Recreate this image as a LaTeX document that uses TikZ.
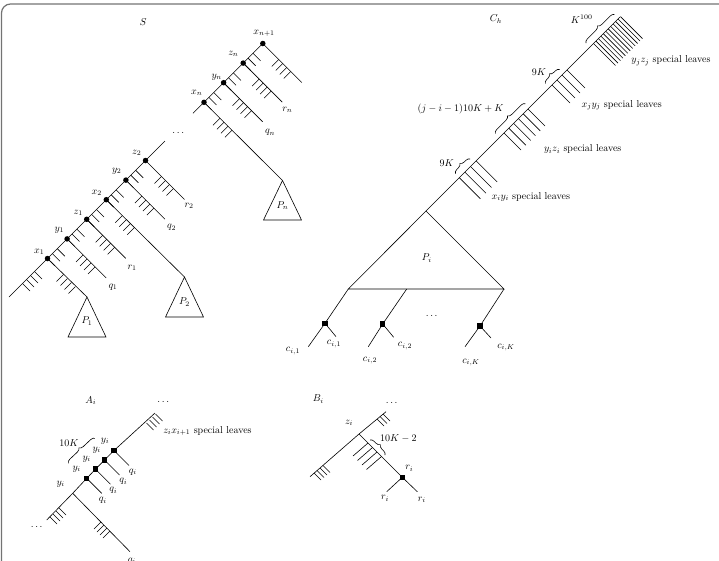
\documentclass[tikz,border=0pt]{standalone}
\usetikzlibrary{calc,decorations.pathreplacing}
\newcommand\hatchgrp[4]{\foreach \k in {0,...,#4}{\draw ($#1+\k*#2$) -- ++#3;}}
\begin{document}
\begin{tikzpicture}[x=1pt,y=-1pt,line width=0.6pt,
  dot/.style={circle,fill,inner sep=0pt,minimum size=5.5pt},
  sq/.style={rectangle,fill,inner sep=0pt,minimum size=5.5pt},
  lbl/.style={inner sep=0pt},
  brc/.style={decorate,decoration={brace,amplitude=4pt}},
  tri/.style={draw}]
\useasboundingbox (0,0) rectangle (719,560);
\clip (0,0) rectangle (719,560);
\draw[black!55,line width=1.2pt,rounded corners=9pt] (1.5,700) -- (1.5,4) -- (900,4);

% ================= S =================
\node[lbl] (tS) at (143.3,21.7) {$S$};
\node[dot] (x1) at (47.5,258.5) {};
\node[dot] (y1) at (67.1,238.9) {};
\node[dot] (z1) at (86.7,219.3) {};
\node[dot] (x2) at (106.3,199.7) {};
\node[dot] (y2) at (125.9,180.1) {};
\node[dot] (z2) at (145.5,160.5) {};
\coordinate (s0) at (9,297);
\coordinate (s1) at (165,141);
\draw (s0) -- (x1.center) -- (y1.center) -- (z1.center) -- (x2.center) -- (y2.center) -- (z2.center) -- (s1);
\node[lbl] at (178.3,133) {$\dots$};
\node[dot] (xn) at (204,102.3) {};
\node[dot] (yn) at (223.6,82.7) {};
\node[dot] (zn) at (243.2,63.1) {};
\node[dot] (xn1) at (262.8,43.5) {};
\coordinate (sn0) at (193,113.3);
\draw (sn0) -- (xn.center) -- (yn.center) -- (zn.center) -- (xn1.center);
% spine hatches
\foreach \n in {x1,y1,z1,x2,y2}{\hatchgrp{(\n)}{(4.9,-4.9)}{(7.5,7.5)}{2}}
\foreach \n in {xn,yn,zn}{\hatchgrp{(\n)}{(4.9,-4.9)}{(7.5,7.5)}{2}}
\hatchgrp{(22.5,283.5)}{(4,-4)}{(7.5,7.5)}{3}
% triangles
\coordinate (p1) at (87,297);
\coordinate (p2) at (184.5,277);
\coordinate (pn) at (282.5,180.5);
\draw (x1.center) -- (p1);
\draw (x2.center) -- (p2);
\draw (xn.center) -- (pn);
\draw (p1) -- ++(19,40) -- ++(-38,0) -- cycle;
\draw (p2) -- ++(19,40) -- ++(-38,0) -- cycle;
\draw (pn) -- ++(19,39.5) -- ++(-38,0) -- cycle;
\node[lbl] at (87,321) {$P_1$};
\node[lbl] at (184.5,302) {$P_2$};
\node[lbl] at (282.5,205.5) {$P_n$};
% short branches
\coordinate (q1e) at ($(y1)+(39,39)$);
\coordinate (r1e) at ($(z1)+(39,39)$);
\coordinate (q2e) at ($(y2)+(39,39)$);
\coordinate (r2e) at ($(z2)+(39,39)$);
\coordinate (qne) at ($(yn)+(39,39)$);
\coordinate (rne) at ($(zn)+(39,39)$);
\coordinate (xne) at ($(xn1)+(39,39)$);
\draw (y1.center) -- (q1e); \draw (z1.center) -- (r1e);
\draw (y2.center) -- (q2e); \draw (z2.center) -- (r2e);
\draw (yn.center) -- (qne); \draw (zn.center) -- (rne); \draw (xn1.center) -- (xne);
\foreach \n in {x1,y1,z1,x2,y2,z2,xn,yn,zn,xn1}{\hatchgrp{($(\n)+(16,16)$)}{(4,4)}{(-7,7)}{3}}
\node[lbl] at (113,287) {$q_1$};
\node[lbl] at (132,268) {$r_1$};
\node[lbl] at (171.7,227.5) {$q_2$};
\node[lbl] at (189,206) {$r_2$};
\node[lbl] at (270,132.5) {$q_n$};
\node[lbl] at (287.3,110) {$r_n$};
\node[lbl] at (39.3,251.7) {$x_1$};
\node[lbl] at (59.3,230) {$y_1$};
\node[lbl] at (78.3,212.7) {$z_1$};
\node[lbl] at (96.7,192.7) {$x_2$};
\node[lbl] at (116.7,171) {$y_2$};
\node[lbl] at (136.7,152.7) {$z_2$};
\node[lbl] at (196.7,92.7) {$x_n$};
\node[lbl] at (216.7,77) {$y_n$};
\node[lbl] at (233.3,54) {$z_n$};
\node[lbl] at (264,33.3) {$x_{n+1}$};

% ================= C_h =================
\node[lbl] (tC) at (496,19.3) {$C_h$};
\coordinate (A) at (426,211);
\coordinate (T) at (620,17);
\draw (A) -- (T);
\draw (A) -- (348.3,289) coordinate (L) -- (504,289) coordinate (R) -- cycle;
\node[lbl] at (426.7,258.3) {$P_i$};
\hatchgrp{(459.3,177.7)}{(5.6,-5.6)}{(21,21)}{3}
\hatchgrp{(504,133)}{(4.8,-4.8)}{(17,17)}{5}
\hatchgrp{(552,85)}{(5,-5)}{(18,18)}{3}
\hatchgrp{(593.5,43.5)}{(2.45,-2.45)}{(22,22)}{11}
\draw[brc] ($(A)+(33.5,-33.5)+(-4,-4)$) -- ($(A)+(48,-48)+(-4,-4)$);
\draw[brc] ($(A)+(73.3,-73.3)+(-4,-4)$) -- ($(A)+(103.3,-103.3)+(-4,-4)$);
\draw[brc] ($(A)+(123.3,-123.3)+(-4,-4)$) -- ($(A)+(137.5,-137.5)+(-4,-4)$);
\draw[brc] ($(A)+(164,-164)+(-4,-4)$) -- ($(A)+(192.5,-192.5)+(-4,-4)$);
\node[lbl] at (446.7,163.3) {$9K$};
\node[lbl,anchor=east] at (504,109.3) {$(j-i-1)10K+K$};
\node[lbl] at (539,71.7) {$9K$};
\node[lbl] at (581.7,19.3) {$K^{100}$};
\node[lbl] at (530.8,196.7) {$x_iy_i$ special leaves};
\node[lbl] at (582.7,149.3) {$y_iz_i$ special leaves};
\node[lbl] at (621.7,105.3) {$x_jy_j$ special leaves};
\node[lbl] at (671,60.7) {$y_jz_j$ special leaves};
% children
\node[sq] (c1) at (325,323.3) {};
\node[sq] (c2) at (382.7,324) {};
\node[sq] (cK) at (480,326) {};
\coordinate (m2) at (406.7,289);
\draw (L) -- (c1.center) -- (308.3,346.7);
\draw (m2) -- (c2.center) -- (368.3,346.7);
\draw (R) -- (cK.center) -- (465,346.7);
\draw (c1.center) -- ++(11,13.3);
\draw (c2.center) -- ++(11,13.3);
\draw (cK.center) -- ++(11,12);
\node[lbl] at (431.7,316) {$\dots$};
\node[lbl] at (293,351) {$c_{i,1}$};
\node[lbl] at (334,344) {$c_{i,1}$};
\node[lbl] at (370,360.7) {$c_{i,2}$};
\node[lbl] at (405,346) {$c_{i,2}$};
\node[lbl] at (471,362.3) {$c_{i,K}$};
\node[lbl] at (506,347.7) {$c_{i,K}$};

% ================= A_i =================
\node[lbl] (tA) at (90.7,400.7) {$A_i$};
\node[lbl] at (163.3,401.7) {$\dots$};
\node[sq] (a1) at (86.7,478.3) {};
\node[sq] (a2) at (95.5,469.2) {};
\node[sq] (a3) at (104.5,460) {};
\node[sq] (a4) at (114,450.5) {};
\coordinate (a0) at (72.7,493.3);
\coordinate (aT) at (155,413);
\coordinate (aL) at (46.7,520);
\draw (aL) -- (a0) -- (a1.center) -- (a2.center) -- (a3.center) -- (a4.center) -- (aT);
\foreach \n in {a1,a2,a3,a4}{\draw (\n.center) -- ++(15,15);}
\coordinate (aq) at (130,551.7);
\draw (a0) -- (aq);
\hatchgrp{(146.5,423)}{(3,-3)}{(7,7)}{3}
\hatchgrp{(50,517)}{(3,-3)}{(7,7)}{3}
\hatchgrp{(101,522)}{(3,3)}{(-7,7)}{3}
\draw[brc] (68.3,463.3) -- (95,438.3);
\node[lbl] at (69,443) {$10K$};
\node[lbl] at (105,441) {$y_i$};
\node[lbl] at (96.7,450) {$y_i$};
\node[lbl] at (86.7,459.3) {$y_i$};
\node[lbl] at (76.7,469.3) {$y_i$};
\node[lbl] at (60.7,484) {$y_i$};
\node[lbl] at (132.7,472) {$q_i$};
\node[lbl] at (123.3,481.5) {$q_i$};
\node[lbl] at (113.3,490.5) {$q_i$};
\node[lbl] at (102.7,500.7) {$q_i$};
\node[lbl] at (131.7,561) {$q_i$};
\node[lbl] at (36.7,526.7) {$\dots$};
\node[lbl,anchor=west] at (163,430.7) {$z_ix_{i+1}$ special leaves};

% ================= B_i =================
\node[lbl] (tB) at (318.3,399.3) {$B_i$};
\node[lbl] at (391.7,402.7) {$\dots$};
\coordinate (zi) at (359,434);
\coordinate (bT) at (386,411.7);
\coordinate (bL) at (310,476.7);
\draw (bL) -- (zi) -- (bT);
\node[lbl] at (349,423) {$z_i$};
\node[sq] (rs) at (402.3,477.3) {};
\draw (zi) -- (rs.center);
\draw (rs.center) -- (386.7,491.7);
\draw (rs.center) -- (417.3,491.7);
\hatchgrp{(377,419)}{(3,-2.5)}{(7,7)}{2}
\hatchgrp{(314,473)}{(3,-2.5)}{(7,7)}{3}
\hatchgrp{(368,443)}{(4.5,4.5)}{(-15,13)}{3}
\draw[brc] (370,440) -- (385,455);
\node[lbl] at (398.3,438.3) {$10K-2$};
\node[lbl] at (409.3,468.3) {$r_i$};
\node[lbl] at (385,498.3) {$r_i$};
\node[lbl] at (421.7,500) {$r_i$};
\end{tikzpicture}
\end{document}
